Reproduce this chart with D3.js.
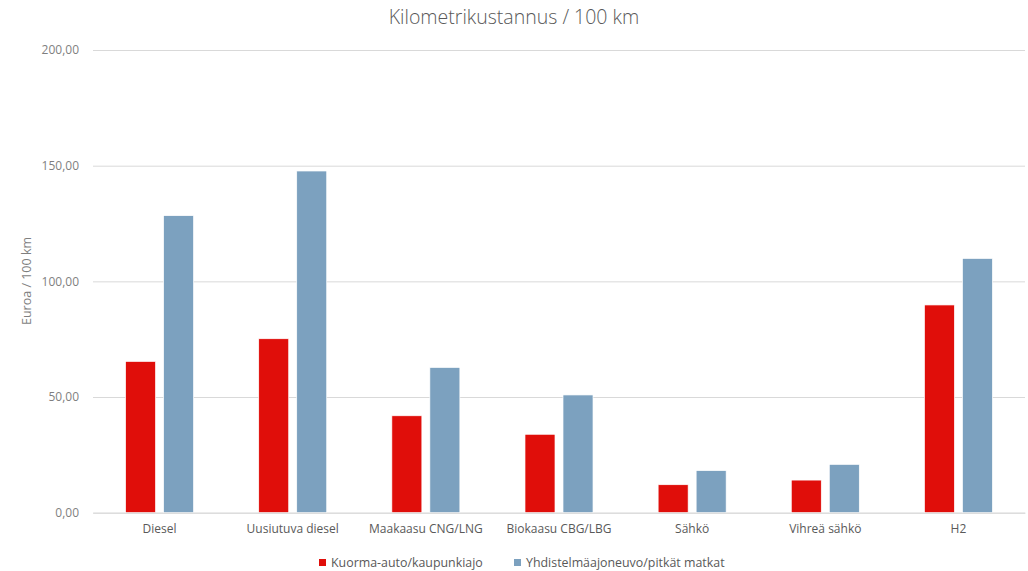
<!DOCTYPE html>
<html>
<head>
<meta charset="utf-8">
<script src="https://cdn.jsdelivr.net/npm/d3@7"></script>
<style>
  body { margin: 0; background: #fff; }
  text { font-family: "Open Sans", "Noto Sans", sans-serif; }
</style>
</head>
<body>
<div id="container"></div>
<script>
// Data
const categories = ["Diesel", "Uusiutuva diesel", "Maakaasu CNG/LNG", "Biokaasu CBG/LBG", "Sähkö", "Vihreä sähkö", "H2"];
const seriesNames = ["Kuorma-auto/kaupunkiajo", "Yhdistelmäajoneuvo/pitkät matkat"];
const truckValues = [65.4, 75.2, 41.9, 33.9, 12.1, 14.1, 89.8];
const comboValues = [128.4, 147.7, 62.8, 50.9, 18.2, 20.9, 109.9];
const yTicks = [0, 50, 100, 150, 200];
const colours = ["#e00e0a", "#7ca1bf"];

// Chart dimensions and margins
const width = 1028;
const height = 571;
const marginTop = 50;
const marginRight = 3;
const marginBottom = 58;
const marginLeft = 93;

const x0 = d3
  .scaleBand()
  .domain(categories)
  .range([marginLeft, width - marginRight])
  .paddingInner(0.489)
  .paddingOuter(0.2445);

const x1 = d3
  .scaleBand()
  .domain(seriesNames)
  .range([0, x0.bandwidth()])
  .paddingInner(0.21);

const y = d3
  .scaleLinear()
  .domain([0, 200])
  .range([height - marginBottom - 0.3, marginTop]);

const svg = d3.create("svg").attr("width", width).attr("height", height);
document.getElementById("container").appendChild(svg.node());

// Title
svg.append("text")
  .attr("x", width / 2)
  .attr("y", 24)
  .attr("text-anchor", "middle")
  .attr("font-size", "19.5px")
  .attr("font-weight", 300)
  .attr("fill", "#595959")
  .text("Kilometrikustannus / 100 km");

// Gridlines + y tick labels
const yAxis = svg.append("g")
  .attr("transform", `translate(${marginLeft},0)`)
  .call(d3.axisLeft(y)
    .tickValues(yTicks)
    .tickSize(-(width - marginLeft - marginRight))
    .tickPadding(14)
    .tickFormat(d => d3.format(".2f")(d).replace(".", ",")));
yAxis.select(".domain").remove();
yAxis.selectAll(".tick line").attr("stroke", "#d9d9d9").attr("stroke-width", 1);
yAxis.selectAll(".tick text")
  .attr("fill", "#7f7f7f")
  .attr("font-size", "12px")
  .attr("font-family", "'Open Sans', sans-serif");

// Y axis title
svg.append("text")
  .attr("transform", `translate(31,281) rotate(-90)`)
  .attr("text-anchor", "middle")
  .attr("font-size", "12.5px")
  .attr("fill", "#7f7f7f")
  .text("Euroa / 100 km");

// Bars
const rows = categories.map((c, i) => ({ category: c, values: [truckValues[i], comboValues[i]] }));

svg.append("g")
  .selectAll("g")
  .data(rows)
  .enter()
  .append("g")
  .attr("transform", d => `translate(${x0(d.category)},0)`)
  .selectAll("rect")
  .data(d => d.values.map((v, j) => ({ series: seriesNames[j], value: v, colour: colours[j] })))
  .enter()
  .append("rect")
  .attr("x", d => x1(d.series))
  .attr("y", d => y(d.value))
  .attr("width", x1.bandwidth())
  .attr("height", d => y(0) - y(d.value))
  .attr("fill", d => d.colour)
  .attr("stroke", "#fff")
  .attr("stroke-width", 0.7);

// X axis labels
const xAxis = svg.append("g")
  .attr("transform", `translate(0,${y(0)})`)
  .call(d3.axisBottom(x0).tickSize(0).tickPadding(12));
xAxis.select(".domain").attr("stroke", "#d9d9d9");
xAxis.selectAll(".tick text")
  .attr("fill", "#595959")
  .attr("font-size", "12px")
  .attr("font-family", "'Open Sans', sans-serif");

// Legend
const legendX = [319, 514];
const legend = svg.append("g")
  .selectAll("g")
  .data(seriesNames)
  .enter()
  .append("g")
  .attr("transform", (d, i) => `translate(${legendX[i]},559)`);
legend.append("rect")
  .attr("width", 7)
  .attr("height", 7)
  .attr("fill", (d, i) => colours[i]);
legend.append("text")
  .attr("x", 12)
  .attr("y", 8)
  .attr("font-size", "12.4px")
  .attr("fill", "#595959")
  .text(d => d);
</script>
</body>
</html>
